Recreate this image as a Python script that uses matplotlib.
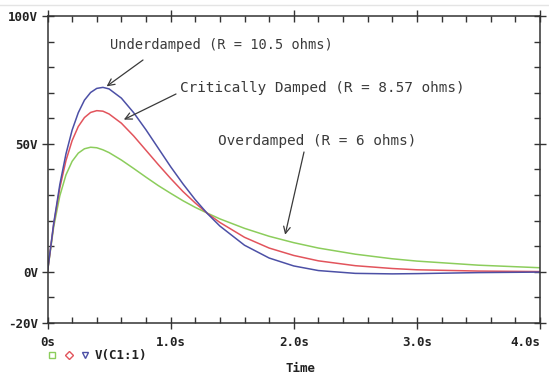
import matplotlib
matplotlib.use("Agg")
import matplotlib.pyplot as plt
from matplotlib.lines import Line2D
from matplotlib.ticker import FixedLocator, MultipleLocator

# Data (time in s, voltage in V)
time_s = [0.0, 0.05, 0.1, 0.15, 0.2, 0.25, 0.3, 0.35, 0.4, 0.45, 0.5, 0.6, 0.7,
          0.8, 0.9, 1.0, 1.1, 1.2, 1.3, 1.4, 1.6, 1.8, 2.0, 2.2, 2.5, 2.8, 3.0,
          3.5, 4.0]
v_over = [0.0, 17.5, 29.7, 37.9, 43.2, 46.4, 48.1, 48.7, 48.5, 47.7, 46.6, 43.7,
          40.4, 37.0, 33.7, 30.7, 27.8, 25.2, 22.9, 20.7, 17.0, 13.9, 11.4, 9.3,
          6.9, 5.1, 4.2, 2.6, 1.6]
v_crit = [0.0, 18.5, 32.8, 43.5, 51.3, 56.8, 60.3, 62.3, 63.0, 62.8, 61.7, 58.1,
          53.1, 47.5, 41.9, 36.5, 31.4, 26.9, 22.8, 19.3, 13.5, 9.3, 6.4, 4.3,
          2.4, 1.3, 0.8, 0.3, 0.1]
v_under = [0.0, 18.8, 34.1, 46.1, 55.4, 62.2, 67.1, 70.1, 71.7, 72.1, 71.5, 67.9,
           62.2, 55.5, 48.3, 41.1, 34.4, 28.2, 22.7, 17.9, 10.4, 5.4, 2.3, 0.5,
           -0.6, -0.8, -0.7, -0.3, -0.1]

y_major = [-20, 0, 50, 100]
y_labels = ["-20V", "0V", "50V", "100V"]
x_major = [0, 1, 2, 3, 4]
x_labels = ["0s", "1.0s", "2.0s", "3.0s", "4.0s"]

annotations = [
    ("Underdamped (R = 10.5 ohms)", (0.48, 72.5), (110, 45), (143, 60), 9.8),
    ("Critically Damped (R = 8.57 ohms)", (0.62, 59.5), (180, 88), (176, 94), 10.4),
    ("Overdamped (R = 6 ohms)", (1.93, 14.5), (218, 141), (304, 152), 10.4),
]

GREEN = "#8ccd5c"
RED = "#e2545c"
BLUE = "#4c50a6"
AXC = "#333333"

W, H = 549, 385
fig = plt.figure(figsize=(W / 100, H / 100), dpi=100)
ax = fig.add_axes([47.5 / W, 1 - 323 / H, (540 - 47.5) / W, (323 - 16) / H])

ax.plot(time_s, v_over, color=GREEN, lw=1.1)
ax.plot(time_s, v_crit, color=RED, lw=1.1)
ax.plot(time_s, v_under, color=BLUE, lw=1.1)

ax.set_xlim(0, 4)
ax.set_ylim(-20, 100)

ax.yaxis.set_major_locator(FixedLocator(y_major))
ax.set_yticklabels(y_labels)
ax.yaxis.set_minor_locator(MultipleLocator(10))
ax.xaxis.set_major_locator(FixedLocator(x_major))
ax.set_xticklabels(x_labels)
ax.xaxis.set_minor_locator(MultipleLocator(0.2))

for lab in ax.get_xticklabels() + ax.get_yticklabels():
    lab.set_fontfamily("DejaVu Sans Mono")
    lab.set_fontweight("bold")
    lab.set_fontsize(9)
    lab.set_color("#222222")
ax.get_xticklabels()[-1].set_horizontalalignment("right")
ax.get_xticklabels()[-1].set_x(4.03)

ax.tick_params(which="major", direction="inout", length=8, width=1.0, color=AXC,
               top=True, right=True, pad=3)
ax.tick_params(which="minor", direction="in", length=4, width=1.0, color=AXC,
               top=True, right=True)
ax.tick_params(axis="x", which="major", pad=5)
for s in ax.spines.values():
    s.set_color(AXC)
    s.set_linewidth(1.1)

def to_fig(px, py):
    return px / W, 1 - py / H

for text, xy, tpos, apos, fs in annotations:
    tx, ty = to_fig(*tpos)
    fig.text(tx, ty, text, family="DejaVu Sans Mono", fontsize=fs,
             color="#3a3a3a", ha="left", va="center")
    ax.annotate("", xy=xy, xycoords="data", xytext=to_fig(*apos),
                textcoords="figure fraction",
                arrowprops=dict(arrowstyle="->", color="#3a3a3a", lw=0.9,
                                shrinkA=0, shrinkB=0, mutation_scale=12))

fig.text(*to_fig(300, 368), "Time", family="DejaVu Sans Mono", weight="bold",
         fontsize=9, color="#222222", ha="center", va="center")

for (px, mk, c) in [(52, "s", GREEN), (68.5, "D", RED), (85, "v", BLUE)]:
    fx, fy = to_fig(px, 355)
    fig.add_artist(Line2D([fx], [fy], marker=mk, mfc="none", mec=c, mew=1.0,
                          ms=5 if mk != "D" else 4, transform=fig.transFigure))
fig.text(*to_fig(95, 355), "V(C1:1)", family="DejaVu Sans Mono", weight="bold",
         fontsize=9, color="#222222", ha="left", va="center")

fig.add_artist(Line2D([0, 1], [1 - 5 / H, 1 - 5 / H], color="#e4e4e4", lw=1.0,
                      transform=fig.transFigure))

fig.savefig("out.png", dpi=100)
